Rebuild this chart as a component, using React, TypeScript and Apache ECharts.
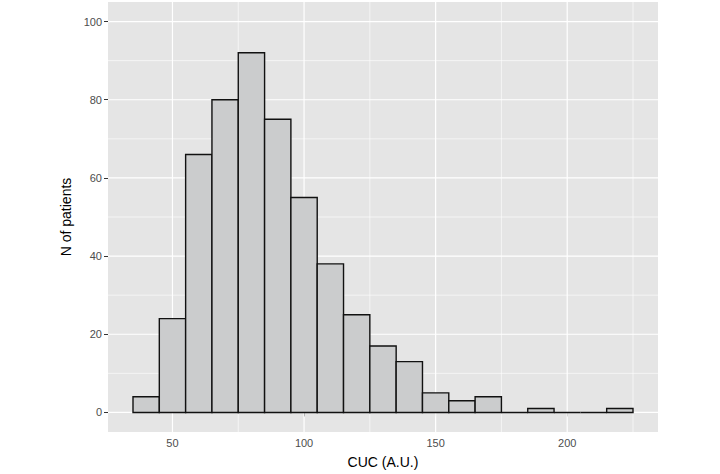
import React, { useEffect, useRef } from "react";
import * as echarts from "echarts";

const binStarts = [35, 45, 55, 65, 75, 85, 95, 105, 115, 125, 135, 145, 155, 165, 175, 185, 195, 205, 215];
const binWidth = 10;
const counts = [4, 24, 66, 80, 92, 75, 55, 38, 25, 17, 13, 5, 3, 4, 0, 1, 0, 0, 1];
const xMajor = [50, 100, 150, 200];
const xMinor = [75, 125, 175, 225];
const yMajor = [0, 20, 40, 60, 80, 100];
const yMinor = [10, 30, 50, 70, 90];

export default function App() {
  const ref = useRef<HTMLDivElement>(null);
  useEffect(() => {
    if (!ref.current) return;
    const chart = echarts.init(ref.current, null, { renderer: "svg" });
    const barData = binStarts.map((s, i) => [s, s + binWidth, counts[i]]);
    const gridData: any[] = [];
    xMajor.forEach((v) => gridData.push([v, 0, 1]));
    xMinor.forEach((v) => gridData.push([v, 0, 0]));
    yMajor.forEach((v) => gridData.push([v, 1, 1]));
    yMinor.forEach((v) => gridData.push([v, 1, 0]));
    const font = "'Liberation Sans', Arial, Helvetica, sans-serif";
    chart.setOption({
      animation: false,
      grid: {
        left: 108,
        right: 62,
        top: 2,
        bottom: 42,
        show: true,
        backgroundColor: "#e5e5e5",
        borderWidth: 0,
      },
      xAxis: {
        type: "value",
        min: 25.5,
        max: 234.5,
        name: "CUC (A.U.)",
        nameLocation: "middle",
        nameGap: 23,
        nameTextStyle: { color: "#000", fontSize: 14, fontFamily: font },
        axisLine: { show: false },
        axisTick: { show: true, length: 4, customValues: xMajor, lineStyle: { color: "#333", width: 1 } },
        axisLabel: { customValues: xMajor, color: "#4d4d4d", fontSize: 11, fontFamily: font, margin: 5 },
        splitLine: { show: false },
      },
      yAxis: {
        type: "value",
        min: -5,
        max: 105,
        name: "N of patients",
        nameLocation: "middle",
        nameGap: 34,
        nameTextStyle: { color: "#000", fontSize: 14, fontFamily: font },
        axisLine: { show: false },
        axisTick: { show: true, length: 4, customValues: yMajor, lineStyle: { color: "#333", width: 1 } },
        axisLabel: { customValues: yMajor, color: "#4d4d4d", fontSize: 11, fontFamily: font, margin: 6 },
        splitLine: { show: false },
      },
      series: [
        {
          type: "custom",
          z: 1,
          silent: true,
          data: gridData,
          encode: { x: 0 },
          renderItem: (params: any, api: any) => {
            const v = api.value(0);
            const orient = api.value(1);
            const major = api.value(2);
            const cs = params.coordSys;
            const w = major ? 1.2 : 0.6;
            if (orient === 0) {
              const p = api.coord([v, 0]);
              return {
                type: "line",
                shape: { x1: p[0], y1: cs.y, x2: p[0], y2: cs.y + cs.height },
                style: { stroke: "#ffffff", lineWidth: w },
              };
            }
            const p = api.coord([30, v]);
            return {
              type: "line",
              shape: { x1: cs.x, y1: p[1], x2: cs.x + cs.width, y2: p[1] },
              style: { stroke: "#ffffff", lineWidth: w },
            };
          },
        },
        {
          type: "custom",
          z: 2,
          data: barData,
          encode: { x: [0, 1], y: 2 },
          renderItem: (params: any, api: any) => {
            const a = api.coord([api.value(0), api.value(2)]);
            const b = api.coord([api.value(1), 0]);
            return {
              type: "rect",
              shape: { x: a[0], y: a[1], width: b[0] - a[0], height: b[1] - a[1] },
              style: { fill: "#cbcccd", stroke: "#111111", lineWidth: 1.4 },
            };
          },
        },
      ],
    });
    return () => chart.dispose();
  }, []);
  return (
    <div
      ref={ref}
      style={{ width: 720, height: 474, position: "absolute", left: 0, top: 0, overflow: "hidden" }}
    />
  );
}
